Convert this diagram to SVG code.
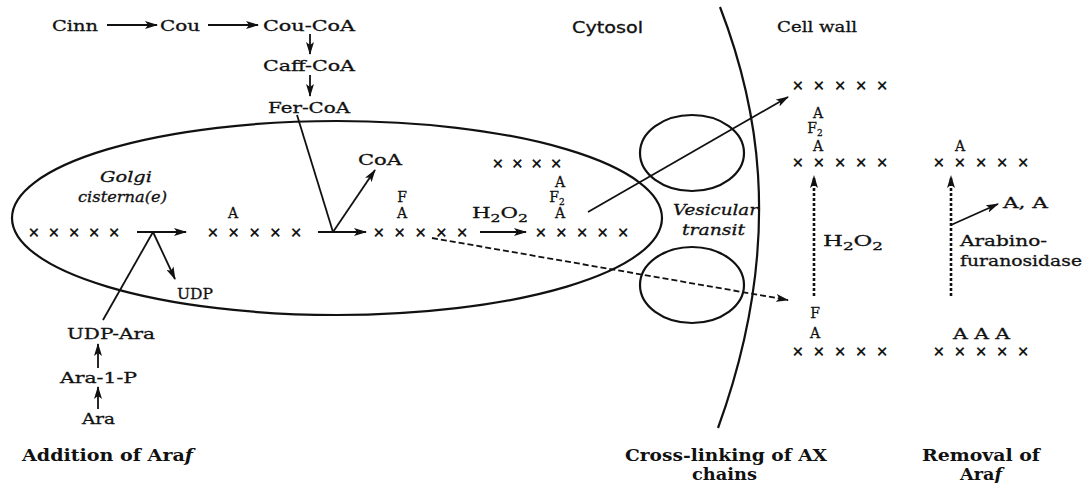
<svg xmlns="http://www.w3.org/2000/svg" width="1083" height="483" viewBox="0 0 1083 483">
<style>
.t{font-family:"DejaVu Serif","Liberation Serif",serif;font-size:15px;fill:#111;stroke:#111;stroke-width:0.3}
.k{font-family:"DejaVu Serif","Liberation Serif",serif;font-size:14px;fill:#111;stroke:#111;stroke-width:0.3}
.i{font-family:"DejaVu Serif","Liberation Serif",serif;font-size:15px;font-style:italic;fill:#111;stroke:#111;stroke-width:0.3}
.b{font-family:"DejaVu Serif","Liberation Serif",serif;font-size:16px;font-weight:bold;fill:#111}
.s{font-family:"DejaVu Sans","Liberation Sans",sans-serif;font-size:15px;fill:#111;stroke:#111;stroke-width:0.3}
.x{font-family:"DejaVu Sans","Liberation Sans",sans-serif;font-size:14px;fill:#000;stroke:#000;stroke-width:0.5}
.ln{stroke:#111;stroke-width:1.8;fill:none}
.ar{stroke:#111;stroke-width:1.8;fill:none;marker-end:url(#ah)}
.da{stroke:#111;stroke-width:1.8;fill:none;stroke-dasharray:6,3;marker-end:url(#ah)}
.dv{stroke:#111;stroke-width:2.6;fill:none;stroke-dasharray:3,2;marker-end:url(#ah)}
.sh{stroke:#111;stroke-width:2.2;fill:none}
</style>
<defs>
<marker id="ah" viewBox="0 0 13 8" refX="12" refY="4" markerWidth="13" markerHeight="8" markerUnits="userSpaceOnUse" orient="auto">
<path d="M0,0 L13,4 L0,8 L3,4 z" fill="#111"/>
</marker>
</defs>
<rect width="1083" height="483" fill="#fff"/>

<g id="shapes">
<ellipse id="golgi-cisterna" class="sh" cx="337" cy="218" rx="325" ry="97"/>
<ellipse id="vesicle-top" class="sh" cx="692" cy="153" rx="52" ry="38"/>
<ellipse id="vesicle-bottom" class="sh" cx="692" cy="285" rx="52" ry="38"/>
<path id="plasma-membrane" class="sh" d="M720,7 C752,90 790,230 718,428"/>
</g>

<g id="connectors">
<line class="ar" x1="107" y1="25" x2="157" y2="25"/>
<line class="ar" x1="208" y1="25" x2="258" y2="25"/>
<line class="ar" x1="310" y1="34" x2="310" y2="54"/>
<line class="ar" x1="310" y1="75" x2="310" y2="96"/>
<line class="ln" x1="297" y1="115" x2="333" y2="232"/>
<line class="ar" x1="333" y1="232" x2="375" y2="170"/>
<line class="ar" x1="318" y1="232" x2="366" y2="232"/>
<line class="ar" x1="137" y1="232" x2="186" y2="232"/>
<line class="ln" x1="153" y1="232" x2="103" y2="320"/>
<line class="ar" x1="153" y1="232" x2="175" y2="279"/>
<line class="ar" x1="98" y1="368" x2="98" y2="344"/>
<line class="ar" x1="98" y1="409" x2="98" y2="387"/>
<line class="ar" x1="480" y1="232" x2="526" y2="232"/>
<line class="ar" x1="588" y1="212" x2="788" y2="97"/>
<line class="da" x1="432" y1="238" x2="788" y2="300"/>
<line class="dv" x1="814" y1="296" x2="814" y2="176"/>
<line class="dv" x1="951" y1="296" x2="951" y2="176"/>
<line class="ar" x1="951" y1="225" x2="998" y2="204"/>
</g>

<g id="phenylpropanoid">
<g id="cinn"><text class="t" x="52" y="30.5" textLength="46" lengthAdjust="spacingAndGlyphs">Cinn</text></g>
<g id="cou"><text class="t" x="160" y="30.5" textLength="40" lengthAdjust="spacingAndGlyphs">Cou</text></g>
<g id="cou-coa"><text class="t" x="263" y="30.5" textLength="92" lengthAdjust="spacingAndGlyphs">Cou-CoA</text></g>
<g id="caff-coa"><text class="t" x="263" y="70.5" textLength="92" lengthAdjust="spacingAndGlyphs">Caff-CoA</text></g>
<g id="fer-coa"><text class="t" x="268" y="112.5" textLength="82" lengthAdjust="spacingAndGlyphs">Fer-CoA</text></g>
<g id="coa"><text class="t" x="358" y="164.5" textLength="44" lengthAdjust="spacingAndGlyphs">CoA</text></g>
</g>

<g id="golgi-labels">
<text class="i" x="100" y="182" textLength="52" lengthAdjust="spacingAndGlyphs">Golgi</text>
<text class="i" x="78" y="202" textLength="89" lengthAdjust="spacingAndGlyphs">cisterna(e)</text>
</g>

<g id="chain-1"><text class="x" x="28" y="237" textLength="92">×××××</text></g>
<g id="chain-2">
<text class="k" x="233" y="218" text-anchor="middle">A</text>
<text class="x" x="207" y="237" textLength="95">×××××</text>
</g>
<g id="chain-3">
<text class="k" x="402" y="202" text-anchor="middle">F</text>
<text class="k" x="402" y="218" text-anchor="middle">A</text>
<text class="x" x="373" y="237" textLength="95">×××××</text>
</g>
<g id="h2o2-golgi"><text class="t" x="472" y="217.5" textLength="56" lengthAdjust="spacingAndGlyphs">H<tspan font-size="11" dy="4">2</tspan><tspan dy="-4">O</tspan><tspan font-size="11" dy="4">2</tspan></text></g>
<g id="chain-4">
<text class="x" x="492" y="168" textLength="70">××××</text>
<text class="k" x="560" y="187" text-anchor="middle">A</text>
<text class="k" x="557" y="202" text-anchor="middle">F<tspan font-size="9" dy="3">2</tspan></text>
<text class="k" x="560" y="218" text-anchor="middle">A</text>
<text class="x" x="535" y="237" textLength="94">×××××</text>
</g>

<g id="udp"><text class="t" x="177" y="298.5" textLength="36" lengthAdjust="spacingAndGlyphs">UDP</text></g>
<g id="udp-ara"><text class="t" x="67" y="338.5" textLength="88" lengthAdjust="spacingAndGlyphs">UDP-Ara</text></g>
<g id="ara-1-p"><text class="t" x="60" y="382.5" textLength="77" lengthAdjust="spacingAndGlyphs">Ara-1-P</text></g>
<g id="ara"><text class="t" x="82" y="423.5" textLength="33" lengthAdjust="spacingAndGlyphs">Ara</text></g>

<g id="vesicular-transit">
<text class="i" x="673" y="215" textLength="85" lengthAdjust="spacingAndGlyphs">Vesicular</text>
<text class="i" x="682" y="235" textLength="63" lengthAdjust="spacingAndGlyphs">transit</text>
</g>

<g id="compartments">
<text class="s" x="572" y="33" textLength="71" lengthAdjust="spacingAndGlyphs">Cytosol</text>
<text class="t" x="777" y="32" textLength="80" lengthAdjust="spacingAndGlyphs">Cell wall</text>
</g>

<g id="wall-chain-top"><text class="x" x="792" y="90" textLength="96">×××××</text></g>
<g id="wall-chain-crosslinked">
<text class="k" x="818" y="118" text-anchor="middle">A</text>
<text class="k" x="815" y="133" text-anchor="middle">F<tspan font-size="9" dy="3">2</tspan></text>
<text class="k" x="818" y="151" text-anchor="middle">A</text>
<text class="x" x="792" y="167" textLength="96">×××××</text>
</g>
<g id="h2o2-wall"><text class="t" x="823" y="245.5" textLength="60" lengthAdjust="spacingAndGlyphs">H<tspan font-size="11" dy="4">2</tspan><tspan dy="-4">O</tspan><tspan font-size="11" dy="4">2</tspan></text></g>
<g id="wall-chain-feruloyl">
<text class="k" x="815" y="318" text-anchor="middle">F</text>
<text class="k" x="815" y="338" text-anchor="middle">A</text>
<text class="x" x="792" y="356" textLength="96">×××××</text>
</g>
<g id="wall-chain-trimmed">
<text class="k" x="960" y="151" text-anchor="middle">A</text>
<text class="x" x="933" y="167" textLength="96">×××××</text>
</g>
<g id="aa"><text class="t" x="1003" y="207.5" textLength="45" lengthAdjust="spacingAndGlyphs">A, A</text></g>
<g id="arabinofuranosidase">
<text class="t" x="960" y="245.5" textLength="87" lengthAdjust="spacingAndGlyphs">Arabino-</text>
<text class="t" x="960" y="265.5" textLength="122" lengthAdjust="spacingAndGlyphs">furanosidase</text>
</g>
<g id="wall-chain-arabinosylated">
<text class="t" x="953" y="338.5" textLength="57" lengthAdjust="spacingAndGlyphs">A A A</text>
<text class="x" x="933" y="356" textLength="96">×××××</text>
</g>

<g id="captions">
<text class="b" x="22" y="461" textLength="171" lengthAdjust="spacingAndGlyphs">Addition of Ara<tspan font-style="italic">f</tspan></text>
<text class="b" x="625" y="461" textLength="202" lengthAdjust="spacingAndGlyphs">Cross-linking of AX</text>
<text class="b" x="692" y="480" textLength="65" lengthAdjust="spacingAndGlyphs">chains</text>
<text class="b" x="922" y="461" textLength="118" lengthAdjust="spacingAndGlyphs">Removal of</text>
<text class="b" x="960" y="480" textLength="42" lengthAdjust="spacingAndGlyphs">Ara<tspan font-style="italic">f</tspan></text>
</g>
</svg>
